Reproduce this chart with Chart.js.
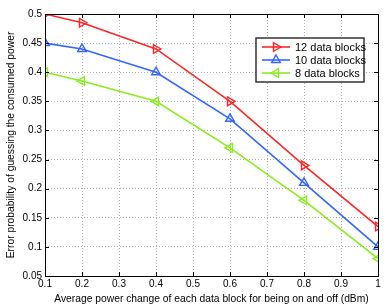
<!DOCTYPE html>
<html>
<head>
<meta charset="utf-8">
<script src="https://cdn.jsdelivr.net/npm/chart.js@4"></script>
<style>
    html, body { margin: 0; padding: 0; background: #fff; }
    #wrap { width: 388px; height: 306px; }
</style>
</head>
<body>
<div id="wrap"><canvas id="errChart" width="388" height="306"></canvas></div>
<script>
// values
var powerChange = [0.1, 0.2, 0.4, 0.6, 0.8, 1.0];
var blocks12 = [0.5, 0.485, 0.44, 0.35, 0.24, 0.135];
var blocks10 = [0.45, 0.44, 0.4, 0.32, 0.21, 0.1];
var blocks8 = [0.4, 0.385, 0.35, 0.27, 0.18, 0.08];
var seriesLabels = ["12 data blocks", "10 data blocks", "8 data blocks"];
var xTicks = [0.1, 0.2, 0.3, 0.4, 0.5, 0.6, 0.7, 0.8, 0.9, 1];
var yTicks = [0.05, 0.1, 0.15, 0.2, 0.25, 0.3, 0.35, 0.4, 0.45, 0.5];

var FONT = "'Liberation Sans', Arial, Helvetica, sans-serif";

function toPoints(ys) {
    return ys.map((y, i) => ({ x: powerChange[i], y: y }));
}

function makeSet(label, ys, color, rotation) {
    return {
        label: label,
        data: toPoints(ys),
        borderColor: color,
        backgroundColor: color,
        borderWidth: 1.6,
        pointStyle: "triangle",
        rotation: rotation,
        pointRadius: 5,
        pointBorderWidth: 1.4,
        pointBorderColor: color,
        pointBackgroundColor: "rgba(0,0,0,0)",
        fill: false,
        tension: 0,
    };
}

// MATLAB style box with inward ticks
var boxPlugin = {
    id: "box",
    afterDatasetsDraw(chart) {
        var ctx = chart.ctx;
        var a = chart.chartArea;
        var xs = chart.scales.x, ys = chart.scales.y;
        ctx.save();
        ctx.strokeStyle = "#000";
        ctx.lineWidth = 1;
        ctx.beginPath();
        xTicks.forEach((t) => {
            var px = Math.round(xs.getPixelForValue(t)) + 0.5;
            ctx.moveTo(px, a.bottom); ctx.lineTo(px, a.bottom - 4);
            ctx.moveTo(px, a.top); ctx.lineTo(px, a.top + 4);
        });
        yTicks.forEach((t) => {
            var py = Math.round(ys.getPixelForValue(t)) + 0.5;
            ctx.moveTo(a.left, py); ctx.lineTo(a.left + 4, py);
            ctx.moveTo(a.right, py); ctx.lineTo(a.right - 4, py);
        });
        ctx.stroke();
        ctx.strokeRect(Math.round(a.left) + 0.5, Math.round(a.top) + 0.5,
            Math.round(a.right - a.left), Math.round(a.bottom - a.top));
        ctx.restore();
    },
};

// legend with a line through each marker
var legendPlugin = {
    id: "matLegend",
    afterDraw(chart) {
        var ctx = chart.ctx;
        var a = chart.chartArea;
        var x0 = a.right - 122, y0 = a.top + 24, w = 108, h = 44;
        ctx.save();
        ctx.fillStyle = "#fff";
        ctx.fillRect(x0, y0, w, h);
        ctx.strokeStyle = "#333";
        ctx.lineWidth = 1.5;
        ctx.strokeRect(x0, y0, w, h);
        ctx.font = "11px " + FONT;
        ctx.textBaseline = "middle";
        chart.data.datasets.forEach((ds, i) => {
            var cy = y0 + 9 + i * 13;
            ctx.strokeStyle = ds.borderColor;
            ctx.lineWidth = 1.6;
            ctx.beginPath();
            ctx.moveTo(x0 + 6, cy); ctx.lineTo(x0 + 34, cy);
            ctx.stroke();
            ctx.lineWidth = 1.4;
            ctx.fillStyle = "rgba(0,0,0,0)";
            Chart.helpers.drawPoint(ctx, {
                pointStyle: "triangle", rotation: ds.rotation, radius: 5,
                borderWidth: 1.4,
            }, x0 + 20, cy);
            ctx.fillStyle = "#000";
            ctx.fillText(seriesLabels[i], x0 + 39, cy + 0.5);
        });
        ctx.restore();
    },
};

var ctx = document.getElementById("errChart").getContext("2d");
var errChart = new Chart(ctx, {
    type: "line",
    data: {
        datasets: [
            makeSet(seriesLabels[0], blocks12, "#ff2626", 90),
            makeSet(seriesLabels[1], blocks10, "#3366ff", 0),
            makeSet(seriesLabels[2], blocks8, "#88ee1e", -90),
        ],
    },
    options: {
        responsive: false,
        animation: false,
        layout: { padding: { top: 14, right: 10, left: 0, bottom: 0 } },
        plugins: {
            legend: { display: false },
            tooltip: { enabled: false },
        },
        scales: {
            x: {
                type: "linear",
                min: 0.1,
                max: 1,
                afterBuildTicks: (s) => { s.ticks = xTicks.map((v) => ({ value: v })); },
                afterFit: (s) => { s.height = 30; },
                ticks: {
                    color: "#000",
                    font: { family: FONT, size: 10 },
                    padding: 2,
                    maxRotation: 0,
                    callback: (v) => String(parseFloat(v.toFixed(2))),
                },
                grid: { color: "#b0b0b0", drawTicks: false, lineWidth: 1 },
                border: { display: false, dash: [1, 2] },
                title: {
                    display: true,
                    text: "Average power change of each data block for being on and off (dBm)",
                    color: "#000",
                    font: { family: FONT, size: 10.3 },
                    padding: { top: 0, bottom: 1 },
                },
            },
            y: {
                type: "linear",
                min: 0.05,
                max: 0.5,
                afterBuildTicks: (s) => { s.ticks = yTicks.map((v) => ({ value: v })); },
                afterFit: (s) => { s.width = 45; },
                ticks: {
                    color: "#000",
                    font: { family: FONT, size: 10 },
                    padding: 3,
                    callback: (v) => String(parseFloat(v.toFixed(2))),
                },
                grid: { color: "#b0b0b0", drawTicks: false, lineWidth: 1 },
                border: { display: false, dash: [1, 2] },
                title: {
                    display: true,
                    text: "Error probability of guessing the consumed power",
                    color: "#000",
                    font: { family: FONT, size: 10.3 },
                    padding: { top: 5, bottom: 0 },
                },
            },
        },
    },
    plugins: [boxPlugin, legendPlugin],
});
</script>
</body>
</html>
